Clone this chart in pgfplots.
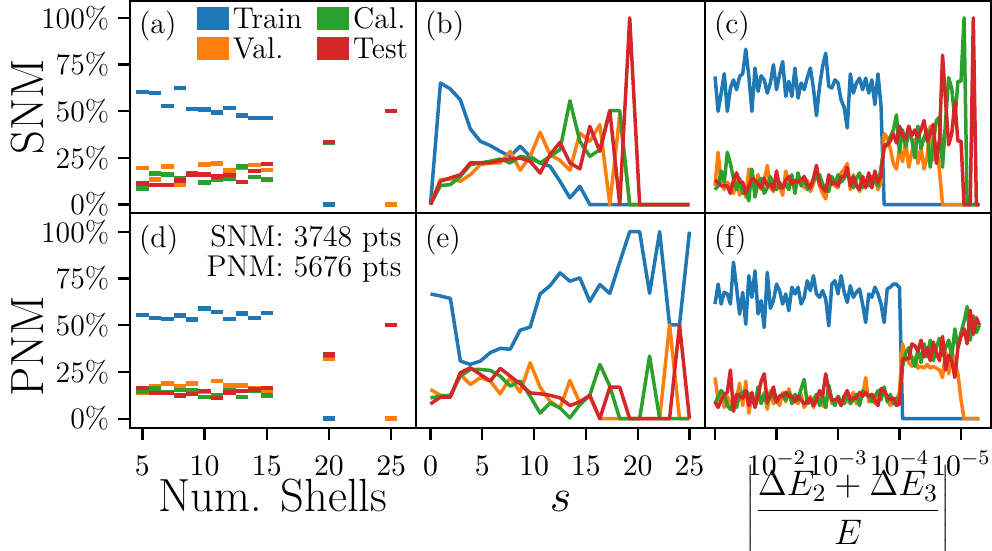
\RequirePackage{fix-cm}
\documentclass[border=0pt]{standalone}
\usepackage{pgfplots}
\usepackage{pgfplotstable}
\pgfplotsset{compat=1.18}
\definecolor{tabblue}{HTML}{1F77B4}
\definecolor{taborange}{HTML}{FF7F0E}
\definecolor{tabgreen}{HTML}{2CA02C}
\definecolor{tabred}{HTML}{D62728}
\newcommand{\tickfont}{\fontsize{11.9}{13}\selectfont}
\newcommand{\txtfont}{\fontsize{12}{12}\selectfont}
\newcommand{\lblfont}{\fontsize{18.6}{22}\selectfont}
\newcommand{\fracfont}{\fontsize{14.2}{17}\selectfont}

% (a) SNM by number of shells
\pgfplotstableread{
x B O G R
5 0.603 0.196 0.087 0.114
6 0.597 0.134 0.166 0.105
7 0.529 0.205 0.160 0.105
8 0.624 0.105 0.143 0.128
9 0.513 0.158 0.169 0.160
10 0.508 0.214 0.119 0.160
11 0.494 0.221 0.134 0.150
12 0.517 0.182 0.139 0.159
13 0.478 0.198 0.203 0.121
14 0.464 0.212 0.148 0.180
15 0.464 0.186 0.134 0.218
20 0.000 0.333 0.333 0.334
25 0.000 0.000 0.500 0.500
}\tabA
% (d) PNM by number of shells
\pgfplotstableread{
x B O G R
5 0.554 0.138 0.145 0.163
6 0.538 0.174 0.160 0.136
7 0.534 0.188 0.142 0.136
8 0.552 0.174 0.154 0.124
9 0.530 0.188 0.154 0.131
10 0.590 0.146 0.117 0.147
11 0.570 0.201 0.125 0.111
12 0.534 0.177 0.154 0.140
13 0.563 0.177 0.117 0.147
14 0.539 0.160 0.150 0.155
15 0.565 0.151 0.125 0.163
20 0.000 0.322 0.335 0.343
25 0.000 0.000 0.500 0.500
}\tabD
% (b) SNM vs s
\pgfplotstableread{
x B O G R
0.00 0 0 0 0
0.96 0.651 0.134 0.102 0.125
1.92 0.619 0.137 0.107 0.143
2.88 0.561 0.125 0.151 0.160
3.85 0.405 0.160 0.214 0.223
4.81 0.339 0.214 0.223 0.223
5.77 0.316 0.223 0.232 0.223
6.73 0.285 0.223 0.244 0.237
7.69 0.258 0.285 0.223 0.244
8.65 0.312 0.184 0.258 0.249
9.62 0.258 0.258 0.249 0.232
10.58 0.223 0.387 0.223 0.169
11.54 0.205 0.267 0.258 0.267
12.50 0.125 0.237 0.294 0.333
13.46 0.036 0.184 0.556 0.223
14.42 0.098 0.383 0.339 0.191
15.38 0 0.339 0.258 0.419
16.35 0 0.428 0.294 0.285
17.31 0 0 0.503 0.503
18.27 0 0.481 0.503 0
19.23 0 0 0 1.0
20.19 0 0 0 0
21.15 0 0 0 0
22.12 0 0 0 0
23.08 0 0 0 0
24.04 0 0 0 0
25.00 0 0 0 0
}\tabB
% (e) PNM vs s
\pgfplotstableread{
x B O G R
0.00 0.667 0.156 0.111 0.079
0.96 0.656 0.125 0.120 0.115
1.92 0.643 0.120 0.125 0.115
2.88 0.308 0.237 0.228 0.246
3.85 0.290 0.183 0.263 0.272
4.81 0.308 0.219 0.263 0.237
5.77 0.353 0.201 0.258 0.201
6.73 0.376 0.133 0.228 0.269
7.69 0.371 0.219 0.174 0.228
8.65 0.473 0.142 0.201 0.186
9.62 0.490 0.299 0.120 0.138
10.58 0.667 0.168 0.030 0.133
11.54 0.711 0.093 0.084 0.125
12.50 0.780 0.057 0.057 0.111
13.46 0.735 0.204 0.004 0.070
14.42 0.753 0.084 0.075 0.090
15.38 0.627 0.120 0.125 0.125
16.35 0.717 0 0.290 0
17.31 0.670 0 0.174 0.168
18.27 0.837 0 0 0.168
19.23 1.0 0 0 0
20.19 1.0 0 0 0
21.15 0.670 0 0.335 0
22.12 1.0 0 0 0
23.08 0.502 0.502 0 0
24.04 0.502 0 0 0.502
25.00 1.0 0 0 0
}\tabE
% (c) SNM vs -log10|(dE2+dE3)/E|
\pgfplotstableread{
x B O G R
1.00 0.686 0.10 0.08 0.13
1.05 0.499 0.28 0.10 0.12
1.10 0.597 0.12 0.18 0.10
1.15 0.701 0.08 0.12 0.10
1.20 0.499 0.12 0.28 0.10
1.25 0.624 0.10 0.22 0.06
1.30 0.668 0.06 0.14 0.13
1.35 0.615 0.13 0.08 0.17
1.40 0.686 0.05 0.14 0.12
1.45 0.700 0.12 0.06 0.12
1.50 0.832 0.04 0.07 0.06
1.55 0.686 0.19 0.02 0.10
1.60 0.499 0.17 0.19 0.14
1.65 0.731 0.10 0.04 0.13
1.70 0.606 0.16 0.12 0.11
1.75 0.690 0.08 0.14 0.09
1.80 0.668 0.13 0.06 0.14
1.85 0.597 0.21 0.09 0.10
1.90 0.651 0.09 0.15 0.11
1.95 0.749 0.07 0.10 0.08
2.00 0.615 0.13 0.08 0.18
2.05 0.695 0.10 0.12 0.09
2.10 0.766 0.05 0.09 0.09
2.15 0.579 0.18 0.11 0.13
2.20 0.660 0.11 0.08 0.15
2.25 0.579 0.15 0.16 0.11
2.30 0.731 0.08 0.06 0.13
2.35 0.570 0.14 0.17 0.12
2.40 0.651 0.12 0.10 0.13
2.45 0.615 0.09 0.15 0.15
2.50 0.680 0.13 0.08 0.11
2.55 0.731 0.07 0.10 0.09
2.60 0.624 0.11 0.13 0.14
2.65 0.476 0.18 0.14 0.21
2.70 0.633 0.10 0.16 0.11
2.75 0.740 0.06 0.11 0.09
2.80 0.811 0.03 0.09 0.07
2.85 0.633 0.14 0.07 0.16
2.90 0.624 0.12 0.15 0.11
2.95 0.668 0.10 0.11 0.12
3.00 0.651 0.09 0.16 0.10
3.05 0.561 0.17 0.12 0.15
3.10 0.520 0.19 0.14 0.15
3.15 0.410 0.22 0.17 0.20
3.20 0.700 0.08 0.12 0.10
3.25 0.597 0.16 0.09 0.15
3.30 0.651 0.11 0.14 0.10
3.35 0.677 0.07 0.17 0.08
3.40 0.615 0.15 0.09 0.15
3.45 0.677 0.10 0.13 0.09
3.50 0.597 0.13 0.10 0.17
3.55 0.668 0.09 0.15 0.09
3.60 0.535 0.17 0.12 0.18
3.65 0.700 0.08 0.10 0.12
3.70 0.526 0.12 0.20 0.15
3.75 0 0.38 0.30 0.32
3.80 0 0.36 0.32 0.32
3.85 0 0.30 0.36 0.34
3.90 0 0.22 0.40 0.38
3.95 0 0.19 0.48 0.33
4.00 0 0.30 0.28 0.42
4.05 0 0.23 0.40 0.37
4.10 0 0.34 0.31 0.35
4.15 0 0.20 0.38 0.42
4.20 0 0.28 0.35 0.37
4.25 0 0.35 0.25 0.40
4.30 0 0.22 0.42 0.36
4.35 0 0.30 0.30 0.40
4.40 0 0.19 0.36 0.45
4.45 0 0.26 0.40 0.34
4.50 0 0.42 0.20 0.38
4.55 0 0.24 0.33 0.43
4.60 0 0.33 0.45 0.22
4.65 0 0.18 0.47 0.35
4.70 0 0 0.20 0.80
4.75 0 0 0.45 0.55
4.80 0 0 0.68 0.32
4.85 0 0 0.62 0.38
4.90 0 0 0.45 0.55
4.95 0 0 0.66 0.34
5.00 0 0 0.66 0.34
5.05 0 0 1.00 0
5.10 0 0 0 0
5.15 0 0 0 0
5.20 0 0 0 1.00
5.25 0 0 0 0
5.30 0 0 0 0
}\tabC
% (f) PNM vs -log10|(dE2+dE3)/E|
\pgfplotstableread{
x B O G R
1.00 0.613 0.22 0.08 0.09
1.05 0.720 0.10 0.12 0.06
1.10 0.613 0.14 0.15 0.10
1.15 0.676 0.06 0.13 0.13
1.20 0.667 0.12 0.07 0.14
1.25 0.613 0.08 0.05 0.26
1.30 0.837 0.04 0.08 0.04
1.35 0.700 0.11 0.06 0.13
1.40 0.559 0.19 0.13 0.12
1.45 0.675 0.07 0.14 0.11
1.50 0.505 0.20 0.15 0.15
1.55 0.765 0.03 0.13 0.07
1.60 0.649 0.12 0.09 0.14
1.65 0.790 0.07 0.08 0.06
1.70 0.560 0.15 0.17 0.12
1.75 0.631 0.09 0.08 0.20
1.80 0.487 0.14 0.13 0.24
1.85 0.783 0.05 0.08 0.09
1.90 0.590 0.15 0.14 0.12
1.95 0.631 0.08 0.12 0.17
2.00 0.720 0.10 0.09 0.09
2.05 0.685 0.07 0.12 0.12
2.10 0.613 0.14 0.13 0.12
2.15 0.667 0.09 0.10 0.14
2.20 0.577 0.16 0.14 0.12
2.25 0.703 0.10 0.08 0.12
2.30 0.667 0.11 0.13 0.09
2.35 0.703 0.08 0.10 0.12
2.40 0.613 0.13 0.16 0.10
2.45 0.649 0.06 0.21 0.08
2.50 0.738 0.09 0.08 0.09
2.55 0.685 0.12 0.09 0.11
2.60 0.765 0.06 0.10 0.07
2.65 0.667 0.10 0.13 0.10
2.70 0.649 0.13 0.07 0.15
2.75 0.685 0.07 0.12 0.12
2.80 0.640 0.06 0.06 0.24
2.85 0.496 0.17 0.18 0.15
2.90 0.720 0.08 0.10 0.10
2.95 0.738 0.09 0.07 0.10
3.00 0.667 0.10 0.12 0.11
3.05 0.765 0.07 0.09 0.07
3.10 0.676 0.12 0.08 0.12
3.15 0.622 0.09 0.14 0.15
3.20 0.711 0.11 0.08 0.10
3.25 0.649 0.14 0.10 0.11
3.30 0.676 0.08 0.13 0.11
3.35 0.694 0.10 0.07 0.14
3.40 0.613 0.12 0.15 0.12
3.45 0.514 0.22 0.13 0.14
3.50 0.667 0.09 0.12 0.12
3.55 0.649 0.13 0.09 0.13
3.60 0.703 0.08 0.12 0.10
3.65 0.667 0.11 0.15 0.07
3.70 0.613 0.13 0.10 0.16
3.75 0.514 0.16 0.17 0.15
3.80 0.694 0.10 0.09 0.12
3.85 0.703 0.07 0.13 0.10
3.90 0.720 0.09 0.08 0.11
3.95 0.720 0.10 0.11 0.07
4.00 0.700 0.14 0.08 0.08
4.05 0 0.40 0.28 0.32
4.10 0 0.33 0.35 0.32
4.15 0 0.30 0.38 0.32
4.20 0 0.28 0.32 0.40
4.25 0 0.33 0.28 0.39
4.30 0 0.27 0.37 0.36
4.35 0 0.28 0.30 0.42
4.40 0 0.27 0.40 0.33
4.45 0 0.29 0.33 0.38
4.50 0 0.27 0.42 0.31
4.55 0 0.28 0.31 0.41
4.60 0 0.27 0.38 0.35
4.65 0 0.26 0.43 0.31
4.70 0 0.22 0.34 0.44
4.75 0 0.36 0.38 0.26
4.80 0 0.24 0.42 0.34
4.85 0 0.36 0.33 0.31
4.90 0 0.30 0.48 0.22
4.95 0 0.24 0.38 0.38
5.00 0 0.10 0.46 0.44
5.05 0 0 0.52 0.48
5.10 0 0 0.60 0.40
5.15 0 0 0.42 0.58
5.20 0 0 0.55 0.45
5.25 0 0 0.46 0.54
5.30 0 0 0.50 0.50
}\tabF

\pgfplotsset{
  panel/.style={scale only axis, anchor=north west,
    axis line style={line width=0.95pt},
    tick style={line width=0.9pt, black},
    major tick length=4.8pt, tick align=outside,
    xtick pos=bottom, ytick pos=left,
    tick label style={font=\tickfont},
    xticklabel style={anchor=base, yshift=-14pt}},
  row1/.style={height=84.8pt, ymin=-0.045, ymax=1.09, xtick=\empty},
  row2/.style={height=86pt, ymin=-0.05, ymax=1.10},
  col1/.style={width=114.4pt, xmin=4, xmax=27,
    ytick={0,0.25,0.5,0.75,1}, yticklabels={0\%,25\%,50\%,75\%,100\%}},
  col2/.style={width=115.6pt, xmin=-1.4, xmax=26.5, ytick=\empty},
  col3/.style={width=114.4pt, xmin=0.837, xmax=5.488, ytick=\empty},
  bar/.style={only marks, mark=-, mark size=2.487pt, mark options={line width=1.8pt, solid}, forget plot},
  ln/.style={line width=1.4pt, line join=round, mark=none, forget plot},
}
\tikzset{lettnode/.style={anchor=north west, inner sep=0pt, font=\txtfont, xshift=3.4pt, yshift=-3.8pt}}

\begin{document}
\begin{tikzpicture}
% ---------- (a)
\begin{axis}[panel, row1, col1, at={(52pt,219.6pt)}, ylabel={SNM},
  ylabel style={font=\lblfont, at={(axis description cs:-0.304,0.5)}, anchor=base},
  legend columns=2, transpose legend, legend cell align=left,
  legend style={draw=none, fill=none, at={(1,1)}, anchor=north east, xshift=-2.4pt, yshift=-2.2pt,
    font=\txtfont, inner sep=0pt, outer sep=0pt, row sep=0pt,
    nodes={inner sep=0.8pt, text height=8.2pt, text depth=2.2pt},
    /tikz/every odd column/.append style={column sep=0.8pt},
    /tikz/every even column/.append style={column sep=5.2pt}},
  legend image code/.code={\fill[#1] (0pt,-3.4pt) rectangle (12.8pt,5.8pt);}]
\addlegendimage{fill=tabblue, draw=none}\addlegendentry{Train}
\addlegendimage{fill=taborange, draw=none}\addlegendentry{Val.}
\addlegendimage{fill=tabgreen, draw=none}\addlegendentry{Cal.}
\addlegendimage{fill=tabred, draw=none}\addlegendentry{Test}
\addplot[bar, tabblue] table[x=x, y=B] {\tabA};
\addplot[bar, taborange] table[x=x, y=O] {\tabA};
\addplot[bar, tabgreen] table[x=x, y=G] {\tabA};
\addplot[bar, tabred] table[x=x, y=R] {\tabA};
\node[lettnode] at (rel axis cs:0,1) {(a)};
\end{axis}
% ---------- (b)
\begin{axis}[panel, row1, col2, at={(166.4pt,219.6pt)}]
\addplot[ln, tabblue] table[x=x, y=B] {\tabB};
\addplot[ln, taborange] table[x=x, y=O] {\tabB};
\addplot[ln, tabgreen] table[x=x, y=G] {\tabB};
\addplot[ln, tabred] table[x=x, y=R] {\tabB};
\node[lettnode] at (rel axis cs:0,1) {(b)};
\end{axis}
% ---------- (c)
\begin{axis}[panel, row1, col3, at={(282pt,219.6pt)}]
\addplot[ln, tabblue] table[x=x, y=B] {\tabC};
\addplot[ln, taborange] table[x=x, y=O] {\tabC};
\addplot[ln, tabgreen] table[x=x, y=G] {\tabC};
\addplot[ln, tabred] table[x=x, y=R] {\tabC};
\node[lettnode] at (rel axis cs:0,1) {(c)};
\end{axis}
% ---------- (d)
\begin{axis}[panel, row2, col1, at={(52pt,134.8pt)}, ylabel={PNM},
  ylabel style={font=\lblfont, at={(axis description cs:-0.304,0.38)}, anchor=base},
  xtick={5,10,15,20,25}, xlabel={Num. Shells},
  xlabel style={font=\lblfont, at={(axis description cs:0.5,0)}, anchor=base, yshift=-33.2pt}]
\addplot[bar, tabblue] table[x=x, y=B] {\tabD};
\addplot[bar, taborange] table[x=x, y=O] {\tabD};
\addplot[bar, tabgreen] table[x=x, y=G] {\tabD};
\addplot[bar, tabred] table[x=x, y=R] {\tabD};
\node[lettnode, yshift=-0.8pt] at (rel axis cs:0,1) {(d)};
\node[anchor=north east, align=right, inner sep=0pt, font=\txtfont, xshift=-5.6pt, yshift=-4.8pt]
  at (rel axis cs:1,1) {SNM: 3748 pts\\PNM: 5676 pts};
\end{axis}
% ---------- (e)
\begin{axis}[panel, row2, col2, at={(166.4pt,134.8pt)},
  xtick={0,5,10,15,20,25}, xlabel={$s$},
  xlabel style={font=\lblfont, at={(axis description cs:0.5,0)}, anchor=base, yshift=-33.2pt}]
\addplot[ln, tabblue] table[x=x, y=B] {\tabE};
\addplot[ln, taborange] table[x=x, y=O] {\tabE};
\addplot[ln, tabgreen] table[x=x, y=G] {\tabE};
\addplot[ln, tabred] table[x=x, y=R] {\tabE};
\node[lettnode, yshift=-0.8pt] at (rel axis cs:0,1) {(e)};
\end{axis}
% ---------- (f)
\begin{axis}[panel, row2, col3, at={(282pt,134.8pt)},
  xtick={1,2,3,4,5}, xticklabels={,$10^{-2}$,$10^{-3}$,$10^{-4}$,$10^{-5}$},
  xlabel={$\displaystyle\left|\frac{\Delta E_2+\Delta E_3\rule{0pt}{12.5pt}}{E\rule[-4pt]{0pt}{0pt}}\right|$},
  xlabel style={font=\fracfont, at={(axis description cs:0.5,0)}, anchor=north, inner sep=0pt, yshift=-14.4pt}]
\addplot[ln, tabblue] table[x=x, y=B] {\tabF};
\addplot[ln, taborange] table[x=x, y=O] {\tabF};
\addplot[ln, tabgreen] table[x=x, y=G] {\tabF};
\addplot[ln, tabred] table[x=x, y=R] {\tabF};
\node[lettnode, yshift=-0.8pt] at (rel axis cs:0,1) {(f)};
\end{axis}
\pgfresetboundingbox
\path[use as bounding box] (0pt,0pt) rectangle (396.8pt,220pt);
\end{tikzpicture}
\end{document}
